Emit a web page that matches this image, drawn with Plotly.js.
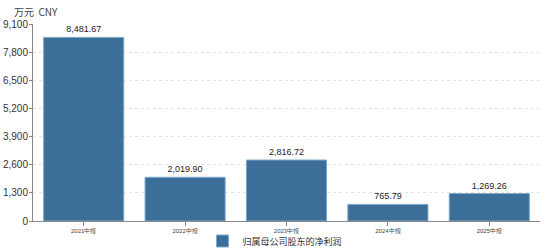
<!DOCTYPE html>
<html>
<head>
<meta charset="utf-8">
<script src="https://cdn.plot.ly/plotly-3.0.1.min.js"></script>
<style>html,body{margin:0;padding:0;background:#fff;}#chart{width:550px;height:250px;}</style>
</head>
<body>
<div id="chart"></div>
<script>
const periods = ['2021中报', '2022中报', '2023中报', '2024中报', '2025中报'];
const netProfit = [8481.67, 2019.90, 2816.72, 765.79, 1269.26];
const yTicks = [0, 1300, 2600, 3900, 5200, 6500, 7800, 9100];
const seriesName = '归属母公司股东的净利润';

const fmt = v => v.toLocaleString('en-US', {minimumFractionDigits: 2, maximumFractionDigits: 2});

const trace = {
  type: 'bar',
  x: periods,
  y: netProfit,
  name: seriesName,
  text: netProfit.map(fmt),
  textposition: 'outside',
  cliponaxis: false,
  textfont: {family: 'Liberation Sans, Arial, sans-serif', size: 9, color: '#222'},
  marker: {color: '#3b6f9a', line: {color: '#7fa8c9', width: 1}},
  showlegend: true
};

const layout = {
  width: 550,
  height: 250,
  margin: {l: 33, r: 10, t: 24, b: 29, autoexpand: false},
  paper_bgcolor: '#fff',
  plot_bgcolor: '#fff',
  bargap: 0.21,
  font: {family: 'Liberation Sans, Arial, sans-serif', color: '#333'},
  xaxis: {
    type: 'category',
    showline: true,
    linecolor: '#888',
    linewidth: 1,
    ticks: 'outside',
    ticklen: 4,
    tickcolor: '#888',
    tickfont: {size: 6, color: '#444'},
    showgrid: false,
    zeroline: false
  },
  yaxis: {
    range: [0, 9100],
    tickvals: yTicks,
    ticktext: yTicks.map(v => v.toLocaleString('en-US')),
    showline: true,
    linecolor: '#888',
    linewidth: 1,
    ticks: 'outside',
    ticklen: 3,
    tickcolor: '#888',
    ticklabelstandoff: -1,
    tickfont: {size: 10, color: '#333'},
    showgrid: true,
    gridcolor: '#e4e4e4',
    griddash: 'dot',
    zeroline: false
  },
  legend: {
    orientation: 'h',
    xref: 'container',
    yref: 'container',
    x: 0.5,
    xanchor: 'center',
    y: 0.036,
    yanchor: 'middle',
    bgcolor: 'rgba(0,0,0,0)',
    font: {size: 9, color: '#333', family: 'Noto Sans CJK SC, sans-serif'},
    itemwidth: 30
  },
  annotations: [{
    text: '万元  CNY',
    xref: 'paper', yref: 'paper',
    x: 0, y: 1,
    xshift: -21, yshift: 13,
    xanchor: 'left', yanchor: 'middle',
    showarrow: false,
    font: {size: 10, color: '#444', family: 'Noto Sans CJK SC, sans-serif'}
  }]
};

Plotly.newPlot('chart', [trace], layout, {displayModeBar: false, staticPlot: true});
</script>
</body>
</html>
